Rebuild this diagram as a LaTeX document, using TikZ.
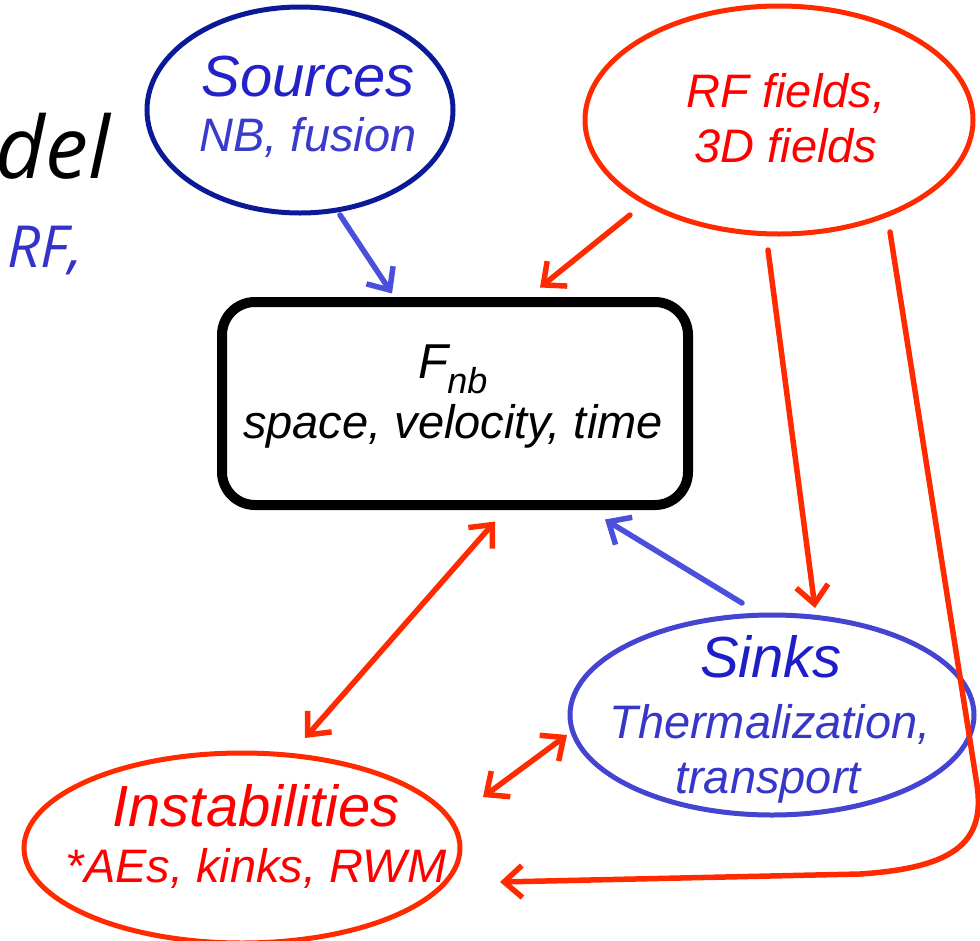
\documentclass[tikz,border=0pt]{standalone}
\usepackage{fontspec}
\setmainfont{Liberation Sans}
\newfontfamily\humfont{Open Sans}
\usetikzlibrary{shapes.geometric,arrows.meta}
\definecolor{navyline}{HTML}{0A1A96}
\definecolor{srctitle}{HTML}{2222C8}
\definecolor{srcsub}{HTML}{3A3ACC}
\definecolor{redtext}{HTML}{FF0000}
\definecolor{redline}{HTML}{FF2A00}
\definecolor{sinkline}{HTML}{4444D0}
\definecolor{sinktitle}{HTML}{1E1EC8}
\definecolor{sinksub}{HTML}{3636C8}
\definecolor{bluearrow}{HTML}{4A50DC}
\definecolor{rftext}{HTML}{3333CC}
\tikzset{
  oval/.style={ellipse, inner sep=0pt, line width=5pt},
  bigt/.style={anchor=base, inner sep=0pt, font=\fontsize{58}{58}\selectfont\itshape},
  smallt/.style={anchor=base, inner sep=0pt, font=\fontsize{47}{47}\selectfont\itshape},
  tip/.style={-{Straight Barb[length=18pt,width=32pt,line width=5.5pt]}},
  dtip/.style={{Straight Barb[length=18pt,width=32pt,line width=5.5pt]}-{Straight Barb[length=18pt,width=32pt,line width=5.5pt]}},
  conn/.style={line width=5.5pt, line cap=round, line join=round},
}
\begin{document}
\begin{tikzpicture}[x=1pt,y=-1pt]
\useasboundingbox (0,0) rectangle (980,940);
% side texts
\node[anchor=base east, inner sep=0pt, font=\humfont\fontsize{86}{86}\selectfont\itshape] (model) at (110,178) {del};
\node[anchor=base east, inner sep=0pt, text=rftext, font=\humfont\fontsize{58}{58}\selectfont\itshape] (rfside) at (83,267) {RF,};
% shapes
\node[oval, draw=navyline, minimum width=306pt, minimum height=206pt] (src) at (300,110) {};
\node[oval, draw=redline, minimum width=388pt, minimum height=228pt] (rf) at (779,120) {};
\node[draw=black, line width=10pt, rounded corners=33pt, minimum width=466pt, minimum height=203pt] (box) at (455,403.5) {};
\node[oval, draw=sinkline, minimum width=404pt, minimum height=200pt] (sinks) at (772,715) {};
\node[oval, draw=redline, minimum width=436pt, minimum height=190pt] (inst) at (242,848) {};
% texts
\node[bigt, text=srctitle] (srct1) at (308,96) {Sources};
\node[smallt, text=srcsub] (srct2) at (308,151) {NB, fusion};
\node[smallt, text=redtext] (rft1) at (786,107) {RF fields,};
\node[smallt, text=redtext] (rft2) at (786,162) {3D fields};
\node[anchor=base, inner sep=0pt, font=\fontsize{49}{49}\selectfont\itshape] (boxt1) at (453,378) {F\kern-1pt\raisebox{-15pt}{\fontsize{36}{36}\selectfont nb}};
\node[smallt, text=black] (boxt2) at (453,438) {space, velocity, time};
\node[bigt, text=sinktitle] (sinkt1) at (771,677) {Sinks};
\node[smallt, text=sinksub] (sinkt2) at (770,738) {Thermalization,};
\node[smallt, text=sinksub] (sinkt3) at (768,793) {transport};
\node[bigt, text=redtext] (instt1) at (256,826) {Instabilities};
\node[smallt, text=redtext] (instt2) at (256,882) {*AEs, kinks, RWM};
% connectors
\draw[conn, tip, draw=bluearrow] ([shift={(40,105)}]src.center) -- ([shift={(-63,-110)}]box.center);
\draw[conn, tip, draw=redline] ([shift={(-149,95)}]rf.center) -- ([shift={(85,-116)}]box.center);
\draw[conn, tip, draw=redline] ([shift={(-11,130)}]rf.center) -- ([shift={(43,-107)}]sinks.center);
\draw[conn, tip, draw=redline] ([shift={(111,112)}]rf.center) -- (977,785) .. controls (986,845) and (950,868) .. (860,874) -- ([shift={(258,34)}]inst.center);
\draw[conn, dtip, draw=redline] ([shift={(40,118)}]box.center) -- ([shift={(63,-110)}]inst.center);
\draw[conn, tip, draw=bluearrow] ([shift={(-30,-112)}]sinks.center) -- ([shift={(150,116)}]box.center);
\draw[conn, dtip, draw=redline] ([shift={(241,-51)}]inst.center) -- ([shift={(-205,20)}]sinks.center);
\end{tikzpicture}
\end{document}
